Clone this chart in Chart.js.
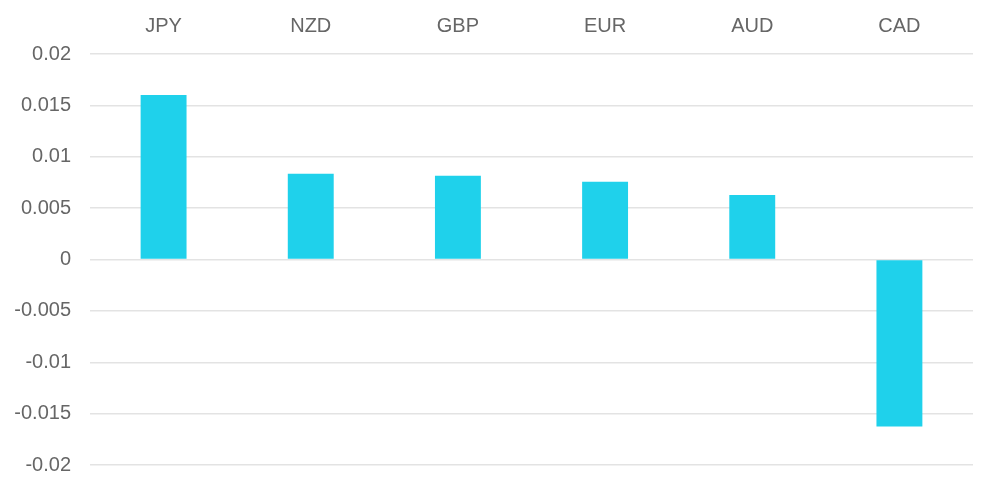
<!DOCTYPE html>
<html>
<head>
<meta charset="utf-8">
<script src="https://cdn.jsdelivr.net/npm/chart.js@4/dist/chart.umd.min.js"></script>
<style>
  html, body { margin: 0; padding: 0; background: #fff; }
  #wrap { width: 1000px; height: 493px; }
</style>
</head>
<body>
<div id="wrap"><canvas id="fxChart"></canvas></div>
<script>
// values
const currencies = ["JPY", "NZD", "GBP", "EUR", "AUD", "CAD"];
const changes = [0.016, 0.00835, 0.00815, 0.00757, 0.00627, -0.01625];
const yTicks = [0.02, 0.015, 0.01, 0.005, 0, -0.005, -0.01, -0.015, -0.02];

const ctx = document.getElementById("fxChart").getContext("2d");

new Chart(ctx, {
  type: "bar",
  data: {
    labels: currencies,
    datasets: [{
      data: changes,
      backgroundColor: "#1fd1eb",
      borderWidth: 0,
      categoryPercentage: 1,
      barPercentage: 0.312
    }]
  },
  options: {
    responsive: true,
    maintainAspectRatio: false,
    animation: false,
    layout: { padding: { top: 6, right: 27, bottom: 28, left: 0 } },
    plugins: {
      legend: { display: false },
      tooltip: { enabled: false }
    },
    scales: {
      x: {
        position: "top",
        grid: { display: false },
        border: { display: false },
        ticks: {
          color: "#666",
          padding: 8,
          font: { family: "Liberation Sans, Arial, sans-serif", size: 20 }
        }
      },
      y: {
        min: -0.02,
        max: 0.02,
        afterBuildTicks: (axis) => { axis.ticks = yTicks.map(v => ({ value: v })); },
        afterFit: (axis) => {
          axis.width = 90;
          axis.paddingTop = 0;
          axis.paddingBottom = 0;
        },
        grid: { color: "#e3e3e3", lineWidth: 1.5, drawTicks: false },
        border: { display: false },
        ticks: {
          color: "#666",
          padding: 19,
          callback: (v) => String(v),
          font: { family: "Liberation Sans, Arial, sans-serif", size: 20 }
        }
      }
    }
  }
});
</script>
</body>
</html>
